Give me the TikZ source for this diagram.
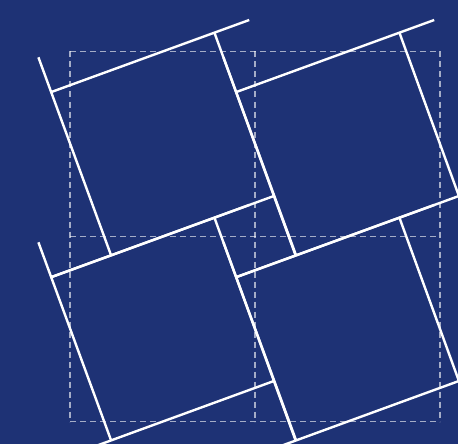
\documentclass[tikz,border=0pt]{standalone}
\definecolor{bgblue}{RGB}{30,50,117}
\begin{document}
\begin{tikzpicture}[x=1pt,y=-1pt,
  tileline/.style={white,line width=2.4pt},
  gridline/.style={white,opacity=0.6,line width=1.1pt,dash pattern=on 6pt off 4pt}]
\fill[bgblue] (0,0) rectangle (458,444);
\useasboundingbox (0,0) rectangle (458,444);
% dashed reference grid
\foreach \k in {0,1,2}{
  \draw[gridline] ({70+185*\k},51.5) -- ({70+185*\k},421.5);
  \draw[gridline] (70,{51.5+185*\k}) -- (440,{51.5+185*\k});
}
% Pythagorean tiling strokes
\foreach \i in {0,1}{
  \foreach \j in {0,1}{
    \begin{scope}[shift={({185*\i},{185*\j})}]
      \coordinate (tl) at (51.1,92.1);
      \coordinate (tr) at (214.4,32.6);
      \coordinate (br) at (273.9,196.0);
      \coordinate (bl) at (111.1,255.4);
      \coordinate (ea) at (38.4,57.3);
      \coordinate (eb) at (249.2,20.0);
      \coordinate (ec) at (295.6,255.5);
      \coordinate (ed) at (51.6,277.1);
      \draw[tileline] (bl) -- (ea);
      \draw[tileline] (tl) -- (eb);
      \draw[tileline] (tr) -- (ec);
      \draw[tileline] (br) -- (ed);
    \end{scope}
  }
}
\end{tikzpicture}
\end{document}
